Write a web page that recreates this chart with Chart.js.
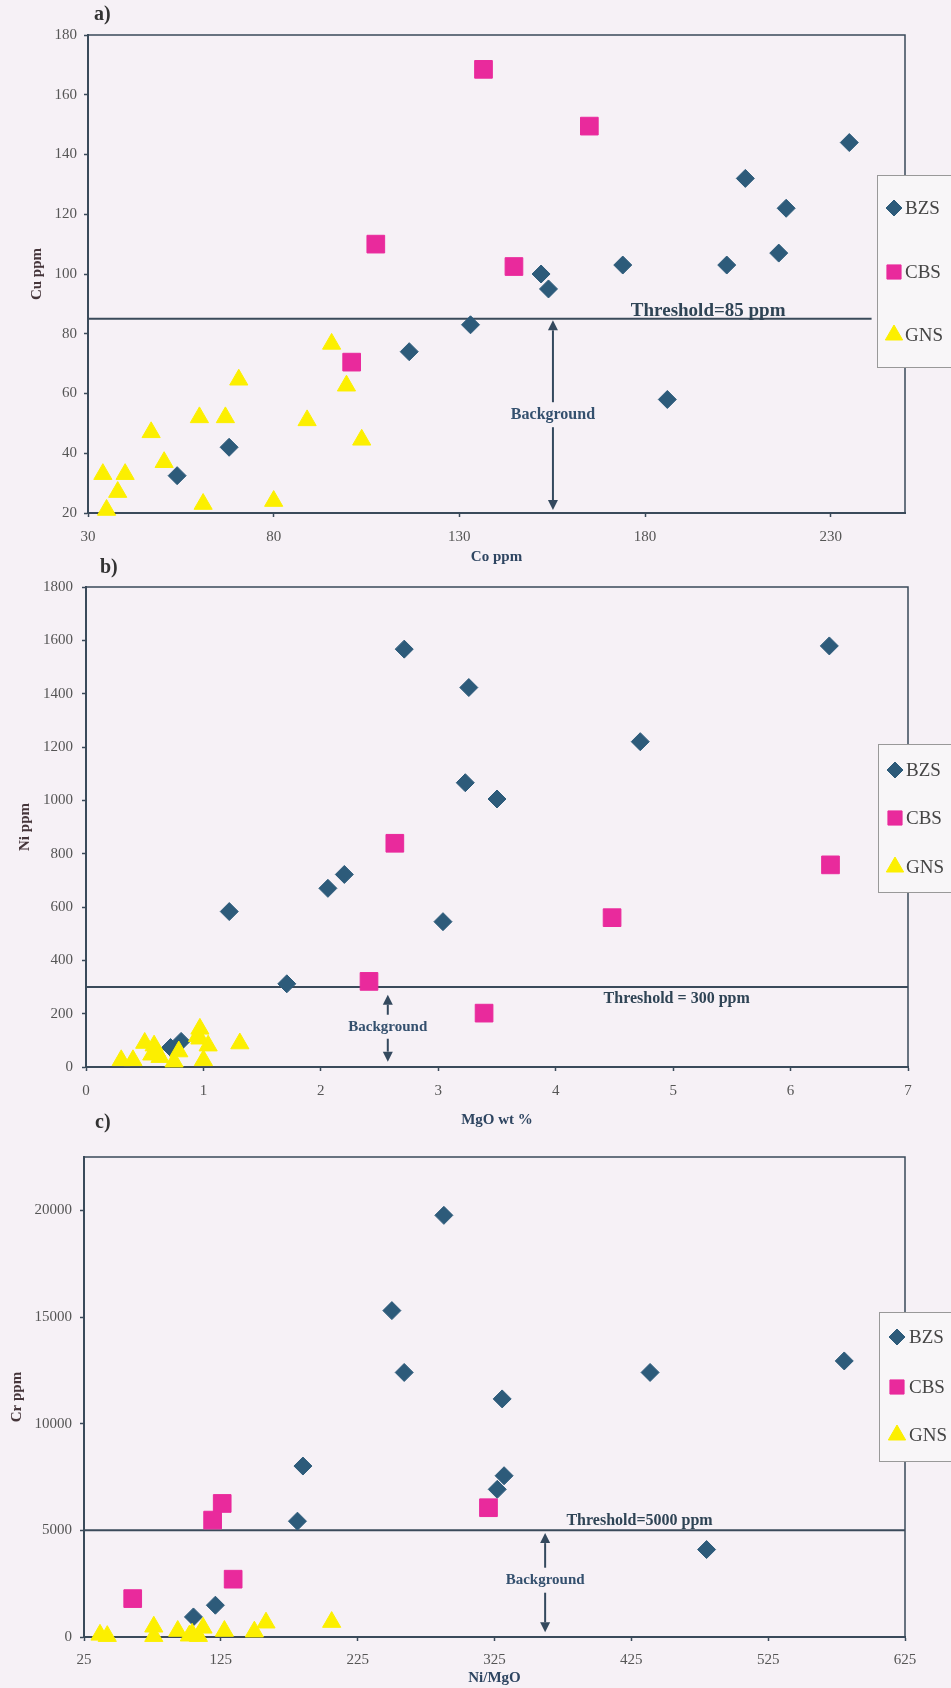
<!DOCTYPE html>
<html>
<head>
<meta charset="utf-8">
<title>Cu, Ni and Cr scatter plots</title>
<script src="https://cdn.jsdelivr.net/npm/chart.js@4.4.1/dist/chart.umd.min.js"></script>
<style>
  html, body { margin: 0; padding: 0; background: #f6f1f6; }
  #page { position: relative; width: 951px; height: 1688px; overflow: hidden; }
  #page canvas { position: absolute; left: 0; }
</style>
</head>
<body>
<div id="page">
  <canvas id="panelA" width="951" height="570" style="top:0px"></canvas>
  <canvas id="panelB" width="951" height="585" style="top:545px"></canvas>
  <canvas id="panelC" width="951" height="588" style="top:1100px"></canvas>
</div>
<script>
// ---- a) Cu vs Co (ppm) ----
const coBZS = [235, 207, 218, 216, 202, 174, 152, 154, 133, 116.5, 68, 54, 186];
const cuBZS = [144, 132, 122, 107, 103, 103, 100, 95, 83, 74, 42, 32.5, 58];
const coCBS = [136.5, 165, 144.7, 107.5, 101];
const cuCBS = [168.5, 149.5, 102.5, 110, 70.5];
const coGNS = [34, 35, 38, 40, 47, 50.5, 60, 61, 67, 70.6, 80, 89, 95.6, 99.6, 103.7];
const cuGNS = [33, 21, 27, 33, 47, 37, 52, 23, 52, 64.6, 24, 51, 76.6, 62.6, 44.5];
const coTicks = [30, 80, 130, 180, 230];
const cuTicks = [20, 40, 60, 80, 100, 120, 140, 160, 180];
const cuThreshold = 85;
const cuThresholdSpan = [30, 241];

// ---- b) Ni (ppm) vs MgO (wt %) ----
const mgoBZS = [2.71, 3.26, 3.23, 2.2, 6.33, 4.72, 3.5, 2.06, 1.22, 3.04, 1.71, 0.72, 0.81];
const niBZS = [1567, 1423, 1066, 722, 1579, 1220, 1005, 670, 583, 545, 312, 73, 96];
const mgoCBS = [2.63, 6.34, 4.48, 3.39, 2.41];
const niCBS = [839, 758, 560, 202, 321];
const mgoGNS = [0.3, 0.4, 0.5, 0.58, 0.56, 0.63, 0.75, 0.79, 0.97, 0.97, 1.04, 1.0, 1.31, 0.6, 0.95];
const niGNS = [25, 25, 90, 80, 46, 37, 20, 58, 143, 106, 80, 25, 88, 60, 115];
const mgoTicks = [0, 1, 2, 3, 4, 5, 6, 7];
const niTicks = [0, 200, 400, 600, 800, 1000, 1200, 1400, 1600, 1800];
const niThreshold = 300;
const niThresholdSpan = [0, 7];

// ---- c) Cr (ppm) vs Ni/MgO ----
const ratioBZS = [288, 250, 259, 580.6, 438.7, 330.6, 185, 181, 121, 105, 332, 327, 480];
const crBZS = [19765, 15300, 12400, 12940, 12400, 11160, 8014, 5430, 1490, 940, 7560, 6920, 4100];
const ratioCBS = [126, 119, 134, 60.6, 320.6];
const crCBS = [6260, 5480, 2710, 1800, 6060];
const ratioGNS = [36.7, 42, 76, 76, 93.5, 102, 108.6, 112, 127.6, 149.5, 158, 206, 104];
const crGNS = [100, 40, 480, 40, 280, 60, 40, 430, 280, 250, 670, 700, 150];
const ratioTicks = [25, 125, 225, 325, 425, 525, 625];
const crTicks = [0, 5000, 10000, 15000, 20000];
const crThreshold = 5000;
const crThresholdSpan = [25, 625];

const SERIF = '"Liberation Serif", "Times New Roman", serif';
Chart.defaults.font.family = SERIF;

const COLORS = { BZS: '#2d5b7a', CBS: '#e92a9c', GNS: '#fcef00' };
const INK = '#3a4a5a';

const pts = (xs, ys) => xs.map((x, i) => ({ x, y: ys[i] }));

// Frame, threshold caption, "Background" arrows, panel letter and legend box
const decor = {
  id: 'decor',
  afterDraw(chart, args, o) {
    const { ctx, chartArea: ca, scales: { x, y } } = chart;
    ctx.save();

    // top and right frame of the plot area
    ctx.strokeStyle = INK;
    ctx.lineWidth = 1.5;
    ctx.beginPath();
    ctx.moveTo(ca.left, ca.top);
    ctx.lineTo(ca.right, ca.top);
    ctx.lineTo(ca.right, ca.bottom);
    ctx.stroke();

    // panel letter
    ctx.fillStyle = '#333';
    ctx.font = 'bold 20px ' + SERIF;
    ctx.textAlign = 'left';
    ctx.textBaseline = 'middle';
    ctx.fillText(o.letter[0], o.letter[1], o.letter[2]);

    // threshold caption
    ctx.fillStyle = '#2f4455';
    ctx.font = 'bold ' + o.thrFont + 'px ' + SERIF;
    ctx.textAlign = 'center';
    ctx.fillText(o.thrText, x.getPixelForValue(o.thrAtX), y.getPixelForValue(o.thrValue) + o.thrDy);

    // "Background" label with arrows
    const ax = x.getPixelForValue(o.bg.x);
    const ty = y.getPixelForValue(o.bg.textY);
    ctx.fillStyle = '#34506e';
    ctx.font = 'bold ' + o.bg.font + 'px ' + SERIF;
    ctx.fillText('Background', ax, ty);
    ctx.strokeStyle = '#34495e';
    ctx.fillStyle = '#34495e';
    ctx.lineWidth = 2;
    const arrow = (y0, y1) => {
      const dir = Math.sign(y1 - y0), head = 10, half = 5;
      ctx.beginPath(); ctx.moveTo(ax, y0); ctx.lineTo(ax, y1 - dir * head); ctx.stroke();
      ctx.beginPath(); ctx.moveTo(ax, y1);
      ctx.lineTo(ax - half, y1 - dir * head); ctx.lineTo(ax + half, y1 - dir * head);
      ctx.closePath(); ctx.fill();
    };
    arrow(ty - o.bg.gap, y.getPixelForValue(o.bg.upTip));
    arrow(ty + o.bg.gap, y.getPixelForValue(o.bg.downTip));

    // legend box
    const L = o.legend;
    ctx.fillStyle = '#f8f6f8';
    ctx.fillRect(L.x, L.top, chart.width - L.x + 2, L.bottom - L.top);
    ctx.strokeStyle = '#999';
    ctx.lineWidth = 1;
    ctx.strokeRect(L.x + 0.5, L.top + 0.5, chart.width - L.x + 4, L.bottom - L.top);
    chart.data.datasets.filter(d => !d.showLine).forEach((d, i) => {
      const yy = L.rows[i];
      ctx.fillStyle = d.backgroundColor;
      ctx.strokeStyle = d.borderColor;
      Chart.helpers.drawPoint(ctx, { pointStyle: d.pointStyle, radius: L.radii[i], rotation: 0, borderWidth: 1 }, L.markerX, yy);
      ctx.fillStyle = '#444';
      ctx.font = '19px ' + SERIF;
      ctx.textAlign = 'left';
      ctx.textBaseline = 'middle';
      ctx.fillText(d.label, L.textX, yy + 1);
    });
    ctx.restore();
  }
};

function makePanel(id, p) {
  const datasets = [
    { label: 'BZS', data: pts(p.bzs[0], p.bzs[1]), pointStyle: 'rectRot', pointRadius: 9,
      backgroundColor: COLORS.BZS, borderColor: COLORS.BZS, borderWidth: 1, order: 3, clip: false },
    { label: 'CBS', data: pts(p.cbs[0], p.cbs[1]), pointStyle: 'rect', pointRadius: 12.5,
      backgroundColor: COLORS.CBS, borderColor: COLORS.CBS, borderWidth: 1, order: 2, clip: false },
    { label: 'GNS', data: pts(p.gns[0], p.gns[1]), pointStyle: 'triangle', pointRadius: 10.5,
      backgroundColor: COLORS.GNS, borderColor: COLORS.GNS, borderWidth: 1, order: 1, clip: false },
    { label: 'threshold', data: [{ x: p.thrSpan[0], y: p.thr }, { x: p.thrSpan[1], y: p.thr }],
      showLine: true, pointRadius: 0, borderColor: INK, borderWidth: 2, order: 4, clip: false }
  ];
  const axisCommon = (ticks, pad, titleText, titleColor, titlePad, fit) => ({
    type: 'linear',
    afterBuildTicks: s => { s.ticks = ticks.map(v => ({ value: v })); },
    afterFit: fit,
    ticks: { autoSkip: false, maxRotation: 0, padding: pad, color: '#555', font: { size: 15 },
             callback: v => String(v) },
    grid: { drawOnChartArea: false, drawTicks: true, tickLength: 4, tickColor: INK, tickWidth: 1.5 },
    border: { display: true, color: INK, width: 2 },
    title: { display: true, text: titleText, color: titleColor, font: { size: 15, weight: 'bold' },
             padding: titlePad }
  });
  const xs = axisCommon(p.xTicks, p.xTickPad, p.xTitle, '#2e4561', { top: 0, bottom: p.xTitlePad },
                        s => { s.height = p.xAxisH; });
  xs.min = p.xRange[0]; xs.max = p.xRange[1];
  const ys = axisCommon(p.yTicks, p.yTickPad, p.yTitle, '#45353a', { top: p.yTitlePad, bottom: 0 },
                        s => { s.width = p.yAxisW; });
  ys.min = p.yRange[0]; ys.max = p.yRange[1];

  return new Chart(document.getElementById(id), {
    type: 'scatter',
    data: { datasets },
    options: {
      responsive: false,
      animation: false,
      events: [],
      layout: { autoPadding: false, padding: p.padding },
      scales: { x: xs, y: ys },
      plugins: { legend: { display: false }, tooltip: { enabled: false }, decor: p.decor }
    },
    plugins: [decor]
  });
}

makePanel('panelA', {
  bzs: [coBZS, cuBZS], cbs: [coCBS, cuCBS], gns: [coGNS, cuGNS],
  thr: cuThreshold, thrSpan: cuThresholdSpan,
  xRange: [30, 250], yRange: [20, 180], xTicks: coTicks, yTicks: cuTicks,
  xTitle: 'Co ppm', yTitle: 'Cu ppm',
  padding: { left: 0, right: 46, top: 35, bottom: 0 },
  yAxisW: 88, xAxisH: 57, xTickPad: 11, xTitlePad: 4, yTickPad: 7, yTitlePad: 28,
  decor: {
    letter: ['a)', 94, 15],
    thrText: 'Threshold=85 ppm', thrFont: 19, thrAtX: 197, thrValue: cuThreshold, thrDy: -8,
    bg: { x: 155.2, textY: 52.9, gap: 12.5, upTip: 84.5, downTip: 21, font: 16 },
    legend: { x: 877, top: 175, bottom: 367, rows: [208, 272, 335], markerX: 894, textX: 905, radii: [8, 10, 10] }
  }
});

makePanel('panelB', {
  bzs: [mgoBZS, niBZS], cbs: [mgoCBS, niCBS], gns: [mgoGNS, niGNS],
  thr: niThreshold, thrSpan: niThresholdSpan,
  xRange: [0, 7], yRange: [0, 1800], xTicks: mgoTicks, yTicks: niTicks,
  xTitle: 'MgO wt %', yTitle: 'Ni ppm',
  padding: { left: 0, right: 43, top: 42, bottom: 0 },
  yAxisW: 86, xAxisH: 63, xTickPad: 11, xTitlePad: 1, yTickPad: 9, yTitlePad: 16,
  decor: {
    letter: ['b)', 100, 23],
    thrText: 'Threshold = 300 ppm', thrFont: 16, thrAtX: 5.03, thrValue: niThreshold, thrDy: 12,
    bg: { x: 2.57, textY: 151, gap: 12, upTip: 271, downTip: 20, font: 15 },
    legend: { x: 878, top: 199, bottom: 347, rows: [225, 273, 322], markerX: 895, textX: 906, radii: [8, 10, 10] }
  }
});

makePanel('panelC', {
  bzs: [ratioBZS, crBZS], cbs: [ratioCBS, crCBS], gns: [ratioGNS, crGNS],
  thr: crThreshold, thrSpan: crThresholdSpan,
  xRange: [25, 625], yRange: [0, 22500], xTicks: ratioTicks, yTicks: crTicks,
  xTitle: 'Ni/MgO', yTitle: 'Cr ppm',
  padding: { left: 0, right: 46, top: 57, bottom: 0 },
  yAxisW: 84, xAxisH: 51, xTickPad: 10, xTitlePad: 1, yTickPad: 8, yTitlePad: 8,
  decor: {
    letter: ['c)', 95, 23],
    thrText: 'Threshold=5000 ppm', thrFont: 16, thrAtX: 431, thrValue: crThreshold, thrDy: -9,
    bg: { x: 362, textY: 2662, gap: 12.5, upTip: 4870, downTip: 220, font: 15 },
    legend: { x: 879, top: 212, bottom: 361, rows: [237, 287, 335], markerX: 897, textX: 909, radii: [8, 10, 10] }
  }
});
</script>
</body>
</html>
